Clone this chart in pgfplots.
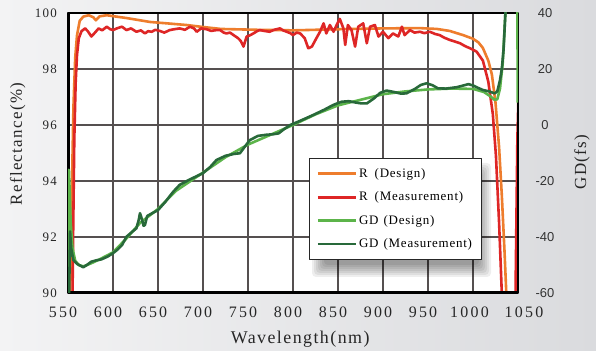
\documentclass[border=0pt]{standalone}
\usepackage{fontspec}
\setmainfont{Liberation Serif}
\newfontfamily\xtf{Liberation Serif}[LetterSpace=14]
\newfontfamily\ltf{Liberation Serif}[LetterSpace=10]
\newfontfamily\rtf{Liberation Sans}
\newfontfamily\labf{Liberation Serif}[LetterSpace=8]
\newfontfamily\legf{Liberation Serif}[LetterSpace=6]
\usepackage{pgfplots}
\pgfplotsset{compat=1.18}
\definecolor{cOr}{RGB}{238,125,45}
\definecolor{cRed}{RGB}{222,38,38}
\definecolor{cLg}{RGB}{92,180,74}
\definecolor{cDg}{RGB}{40,105,58}
\definecolor{bgL}{RGB}{243,243,244}
\definecolor{bgR}{RGB}{218,219,222}
\definecolor{gridc}{RGB}{85,80,80}
\begin{document}
\begin{tikzpicture}
\shade[left color=bgL, right color=bgR] (0,0) rectangle (596bp,351bp);
\useasboundingbox (0,0) rectangle (596bp,351bp);
\begin{axis}[
  at={(68bp,58bp)}, anchor=south west, scale only axis,
  width=450bp, height=280bp,
  xmin=550, xmax=1050, ymin=90, ymax=100,
  xtick={550,600,...,1050},
  xticklabels={550,600,650,700,750,800\hspace{5bp},850\hspace{5bp},900\hspace{5bp},950\hspace{6bp},\hspace{3bp}1000,\hspace{22bp}1050},
  ytick={90,92,...,100},
  yticklabels={90,92,94,96,98,100},
  major tick length=0pt,
  grid=major,
  major grid style={gridc, line width=1.1bp},
  axis background/.style={fill=white},
  axis line style={line width=1.6bp, black},
  xticklabel style={font=\xtf\fontsize{16}{17}\selectfont, anchor=north, inner sep=0pt, yshift=-13.5bp, xshift=-5bp, color=black!85},
  yticklabel style={font=\ltf\fontsize{13}{13}\selectfont, anchor=east, inner sep=0pt, xshift=-11bp, color=black!85},
  xlabel={Wavelength(nm)},
  xlabel style={font=\labf\fontsize{18}{20}\selectfont, at={(axis description cs:0.516,-0.164)}, anchor=center, color=black!85},
  ylabel={Reflectance(\%)},
  ylabel style={font=\labf\fontsize{17}{19}\selectfont, at={(axis description cs:-0.112,0.532)}, anchor=center, color=black!85},
  line join=round,
]
\addplot[cOr, line width=2.6bp] coordinates {
(551.5,88) (553,91) (554.5,94) (556,96.6) (558,98.4) (560,99.2) (563,99.72) (567,99.87) (573,99.92) (578,99.85) (581,99.74) (585,99.88) (593,99.92) (615,99.82) (641,99.68) (660,99.63) (682,99.57) (700,99.5) (720,99.43) (760,99.4) (800,99.38) (850,99.42) (900,99.45) (941,99.46) (960,99.43) (974,99.36) (989,99.21) (1000,99.08) (1006,98.95) (1011,98.75) (1017,98.3) (1021,97.8) (1025,96.8) (1029,95.2) (1032,93.5) (1035,91.5) (1037,90) (1038,88)
};
\addplot[cRed, line width=2.6bp] coordinates {
(554.5,88) (555.5,91.5) (557,95.5) (558.5,97.5) (560,98.5) (562,99.1) (565,99.35) (569,99.45) (572,99.35) (576,99.16) (580,99.3) (584,99.45) (588,99.38) (593,99.51) (597,99.42) (600,99.39) (605,99.46) (610,99.51) (615,99.39) (620,99.45) (626,99.33) (631,99.38) (635.5,99.27) (639,99.35) (643,99.33) (647,99.4) (652,99.36) (657,99.3) (663,99.39) (668,99.42) (674,99.45) (680,99.4) (685.5,99.51) (690,99.45) (693,99.33) (698,99.45) (704,99.42) (709,99.36) (715,99.39) (719,99.39) (723,99.3) (726,99.27) (730,99.3) (734,99.21) (739,99.1) (742,99.0) (745,98.8) (748.5,99.16) (752,99.2) (756,99.27) (760,99.35) (763,99.39) (768,99.36) (774,99.33) (779,99.4) (785.6,99.45) (789,99.38) (793,99.33) (797,99.28) (800,99.21) (804,99.3) (808,99.27) (813,99.1) (817,98.74) (821,98.8) (826,99.1) (830,99.33) (834,99.63) (837,99.27) (841,99.57) (845,99.33) (848.5,99.57) (852,99.79) (856,99.45) (858,98.86) (861,99.57) (865,99.39) (869,98.8) (872.5,99.51) (878,99.63) (882,98.92) (885.6,99.51) (891,99.57) (895,99.16) (900,99.33) (906,99.1) (911,99.27) (917,99.16) (921,99.51) (924,99.21) (930,99.39) (935,99.3) (941,99.33) (946,99.28) (952,99.33) (958,99.25) (963,99.21) (968,99.12) (974,99.04) (980,98.98) (985.6,98.92) (991,98.82) (996.7,98.74) (1004,98.62) (1011,98.3) (1017,97.55) (1022,96.4) (1025.5,94.9) (1029,92.5) (1032,90) (1033,88)
};
\addplot[cRed, line width=2.6bp] coordinates {
(1046.5,88) (1048,92) (1049.3,95.5) (1050.5,97)
};
\draw[black, line width=3bp] (rel axis cs:0,1) -- (rel axis cs:0,0) -- (rel axis cs:1,0);
\end{axis}
% blurred shadow behind the legend box
\foreach \s in {-6,-4,-2,0,2,4,6} {
  \fill[black, opacity=0.065, rounded corners=4bp] ({318bp-\s bp},{80bp-\s bp}) rectangle ({485bp+\s bp},{182bp+\s bp});
}
\begin{axis}[
  at={(68bp,58bp)}, anchor=south west, scale only axis,
  width=450bp, height=280bp,
  xmin=550, xmax=1050, ymin=-60, ymax=40,
  axis x line=none, axis y line*=right,
  ytick={-60,-40,...,40},
  yticklabels={-60,-40,-20,0,20,40},
  major tick length=0pt,
  axis line style={line width=1.6bp, black},
  yticklabel style={font=\rtf\fontsize{13}{13}\selectfont, anchor=center, inner sep=0pt, xshift=27bp, color=black!80},
  ylabel={GD(fs)},
  ylabel style={font=\labf\fontsize{17}{19}\selectfont, at={(axis description cs:1.142,0.468)}, anchor=center, color=black!85},
  line join=round,
  legend image code/.code={\draw[#1] (0bp,0bp) -- (38bp,0bp);},
  legend cell align=left,
  legend style={at={(axis description cs:0.5356,0.482)}, anchor=north west,
    draw=black!85, line width=1bp, fill=white,
    font=\legf\fontsize{13}{14}\selectfont,
    inner xsep=7bp, inner ysep=8bp, row sep=9bp},
]
\addlegendimage{cOr, line width=2.6bp}
\addlegendentry{R\hspace{7bp}(Design)}
\addlegendimage{cRed, line width=2.6bp}
\addlegendentry{R\hspace{7bp}(Measurement)}
\addplot[cLg, line width=2.6bp] coordinates {
(550.3,-62) (551,-16) (552,-25) (553,-35) (555,-44) (558,-48.5) (562,-50) (567,-50.5) (575,-49.5) (585,-48) (600,-45.5) (615,-40.5) (630,-35) (650,-30) (670,-23.5) (700,-17) (725,-11.5) (750,-7) (775,-3.5) (800,0) (825,3.8) (850,7) (875,9) (900,11) (925,12) (950,12.7) (975,13) (1000,12.9) (1012,11.8) (1019,10.3) (1024,9) (1027,9.2) (1030,13) (1033,22) (1036,40) (1038,62)
};
\addlegendentry{GD\hspace{5bp}(Design)}
\addplot[cDg, line width=2.6bp] coordinates {
(551.2,-62) (552.3,-38) (553.5,-44) (556,-48.2) (560,-49.6) (567,-50.8) (571,-50) (576,-48.8) (582,-48.3) (587,-48) (594,-47) (600,-45.8) (605,-44.5) (610,-42.9) (615,-39.9) (620,-38.5) (626,-36.9) (628.5,-34) (630,-31.5) (632,-33.5) (634,-36) (635.5,-35.7) (638,-32.5) (643,-31.6) (650,-30.4) (658,-27.5) (667,-23.8) (674,-21.4) (685,-19.5) (700,-17.2) (708,-15) (715,-12.5) (725,-11) (735,-10.3) (741,-10.1) (747,-7.5) (752,-5.4) (761,-3.9) (770,-3.5) (778,-3.3) (784,-3.0) (790,-1.5) (797,0) (808,1.5) (815,2.5) (822.6,3.6) (835,5.5) (845,7.2) (854,8.3) (862,8.5) (870,8.0) (876,7.7) (882,7.7) (890,9.5) (897,11.5) (904,12.3) (912,11.8) (920,11.2) (926,11.3) (935,12.8) (942,14.3) (948.5,14.9) (955,14.2) (961,13.1) (970,13) (982,13.5) (988,14) (995,14.6) (1001,14) (1006,13.2) (1011,12.5) (1018,12) (1024,11.3) (1027,12) (1030,16) (1032,20) (1034,27) (1036,40) (1037,62)
};
\addlegendentry{GD\hspace{5bp}(Measurement)}
\addplot[cLg, line width=2.6bp, forget plot] coordinates {
(1049.4,45) (1049.6,8)
};
\end{axis}
\end{tikzpicture}
\end{document}
